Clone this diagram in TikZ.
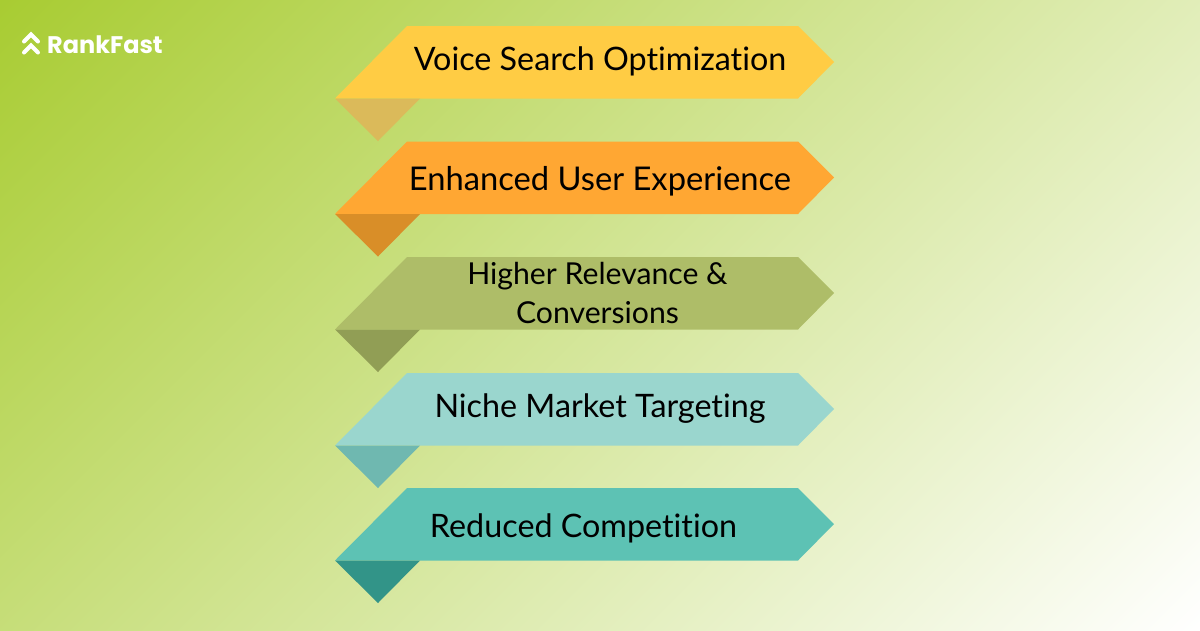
\documentclass[tikz,border=0pt]{standalone}
\usepackage{fontspec}
\setmainfont{Lato}[Ligatures=NoCommon]
\newfontfamily\logofont{Poppins}
\definecolor{bgA}{HTML}{A8CC32}
\definecolor{bgC}{HTML}{FFFFFF}
\definecolor{r1}{HTML}{FFCC44}\definecolor{s1}{HTML}{DBBA5A}
\definecolor{r2}{HTML}{FFA733}\definecolor{s2}{HTML}{D98E28}
\definecolor{r3}{HTML}{AEBD68}\definecolor{s3}{HTML}{919E55}
\definecolor{r4}{HTML}{9AD6CE}\definecolor{s4}{HTML}{6FB8B0}
\definecolor{r5}{HTML}{5DC2B4}\definecolor{s5}{HTML}{329488}
\tikzset{
  x=1pt,y=-1pt,
  banner/.style={inner sep=0,outer sep=0,anchor=base,font=\fontsize{32.3}{39}\selectfont,align=center,text=black},
  chevron/.style={line width=4pt,white,line cap=round,line join=miter},
}
\newcommand{\ribbon}[3]{%
  \fill[#2] (407,#1) -- (798,#1) -- (834,#1+36) -- (798,#1+72.5) -- (335,#1+72.5) -- cycle;
  \fill[#3] (335,#1+72.5) -- (420,#1+72.5) -- (378,#1+115) -- cycle;
}
\begin{document}
\begin{tikzpicture}
\useasboundingbox (0,0) rectangle (1200,630);
\begin{scope}
\clip (0,0) rectangle (1200,630);
\shade[left color=bgA,right color=bgC,transform canvas={shift={(600pt,-315pt)},rotate=-45}] (-647,-1000) rectangle (647,1000);
\end{scope}
\ribbon{26}{r1}{s1}
\ribbon{141.5}{r2}{s2}
\ribbon{257}{r3}{s3}
\ribbon{373}{r4}{s4}
\ribbon{488}{r5}{s5}
\node[banner] (t1) at (600,70.5) {Voice Search Optimization};
\node[banner,font=\fontsize{32.7}{39}\selectfont] (t2) at (600,190.5) {Enhanced User Experience};
\node[banner,anchor=center,font=\fontsize{30.2}{39}\selectfont] (t3) at (597.5,292.5) {Higher Relevance \&\\Conversions};
\node[banner] (t4) at (600,417.5) {Niche Market Targeting};
\node[banner] (t5) at (583.5,537.5) {Reduced Competition};
\node[inner sep=0,text=white,anchor=west,font=\logofont\bfseries\fontsize{24}{26}\selectfont] (logo) at (47,44.5) {RankFast};
\draw[chevron] (24,41.5) -- (31,34.5) -- (38,41.5);
\draw[chevron] (24,52.5) -- (31,45.5) -- (38,52.5);
\end{tikzpicture}
\end{document}
